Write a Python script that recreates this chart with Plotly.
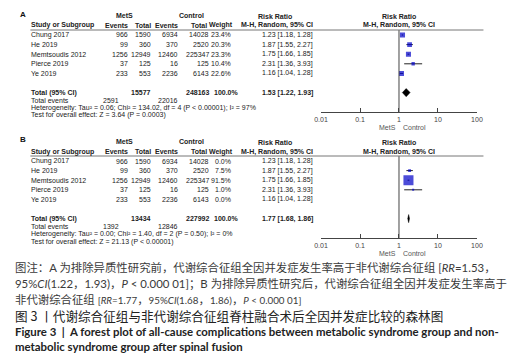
import plotly.graph_objects as go
import math

# ---------------- data ----------------
studies = ["Chung 2017", "He 2019", "Memtsoudis 2012", "Pierce 2019", "Ye 2019"]
mets_events = [966, 99, 1256, 37, 233]
mets_total = [1590, 360, 12949, 125, 553]
ctrl_events = [6934, 370, 12460, 16, 2236]
ctrl_total = [14028, 2520, 225347, 125, 6143]
rr = [1.23, 1.87, 1.75, 2.31, 1.16]
rr_lo = [1.18, 1.55, 1.66, 1.36, 1.04]
rr_hi = [1.28, 2.27, 1.85, 3.93, 1.28]
weight_a = [23.4, 20.3, 23.3, 10.4, 22.6]
weight_b = [0.0, 7.5, 91.5, 1.0, 0.0]

pooled_a = [1.53, 1.22, 1.93]
pooled_b = [1.77, 1.68, 1.86]
totals_a = [15577, 248163, 2591, 22016]
totals_b = [13434, 227992, 1392, 12846]
het_a = "Heterogeneity: Tau² = 0.06; Chi² = 134.02, df = 4 (P < 0.00001); I² = 97%"
het_b = "Heterogeneity: Tau² = 0.00; Chi² = 1.40, df = 2 (P = 0.50); I² = 0%"
test_a = "Test for overall effect: Z = 3.64 (P = 0.0003)"
test_b = "Test for overall effect: Z = 21.13 (P < 0.00001)"

tick_vals = [0.01, 0.1, 1, 10, 100]
tick_labels = ["0.01", "0.1", "1", "10", "100"]


def lat(s):
    return '<span style="font-size:9.8px">' + s + '</span>'


caption_lines = [
    "图注：A 为排除异质性研究前，代谢综合征组全因并发症发生率高于非代谢综合征组 [<i>RR</i>=1.53，",
    "95%<i>CI</i>(1.22，1.93)，<i>P</i> < 0.000 01]；B 为排除异质性研究后，代谢综合征组全因并发症发生率高于",
    "非代谢综合征组 " + lat("[<i>RR</i>=1.77") + "，" + lat("95%<i>CI</i>(1.68") + "，"
    + lat("1.86)") + "，" + lat("<i>P</i> < 0.000 01]"),
]
title_cn = "图 3 丨代谢综合征组与非代谢综合征组脊柱融合术后全因并发症比较的森林图"
title_en = ["Figure 3  |  A forest plot of all-cause complications between metabolic syndrome group and non-",
            "metabolic syndrome group after spinal fusion"]

# ---------------- layout helpers ----------------
W, H = 507, 358
FONT = "Liberation Sans, Arial, sans-serif"
TXT = "#222"
FS = 7


def xp(p):
    return p / W


def yp(p):
    return 1 - p / H


ROW0 = 35.0
STEP = 9.6
AX_X0, AX_X1 = 322.3, 482.3

fig = go.Figure()
annotations = []
shapes = []


def txt(s, x, y, anchor="left", bold=False, size=FS, color=TXT, family=FONT):
    if bold:
        s = "<b>" + s + "</b>"
    annotations.append(dict(text=s, x=xp(x), y=yp(y), xref="paper", yref="paper",
                            xanchor=anchor, yanchor="middle", showarrow=False,
                            font=dict(family=family, size=size, color=color),
                            borderpad=0))


def panel(idx, label, off, weights, pooled, totals, het, test):
    xa = "x" if idx == 1 else "x2"
    ya = "y" if idx == 1 else "y2"
    rowpx = lambda r: off + ROW0 + STEP * r
    # header
    txt(label, 12, off + 14, bold=True, size=8, color="#111")
    txt("MetS", 121, off + 15.5, anchor="center", bold=True)
    txt("Control", 189, off + 15.5, anchor="center", bold=True)
    txt("Risk Ratio", 275, off + 16.5, anchor="center", bold=True)
    txt("Risk Ratio", 402, off + 16.5, anchor="center", bold=True)
    hy = off + 25.5
    txt("Study or Subgroup", 24, hy, bold=True)
    txt("Events", 125, hy, anchor="right", bold=True)
    txt("Total", 149, hy, anchor="right", bold=True)
    txt("Events", 177, hy, anchor="right", bold=True)
    txt("Total", 206.5, hy, anchor="right", bold=True)
    txt("Weight", 232.5, hy, anchor="right", bold=True)
    txt("M-H, Random, 95% CI", 315, hy, anchor="right", bold=True)
    txt("M-H, Random, 95% CI", 402, hy, anchor="center", bold=True)
    shapes.append(dict(type="line", xref="paper", yref="paper",
                       x0=xp(24), x1=xp(489), y0=yp(off + 30), y1=yp(off + 30),
                       line=dict(color="#777", width=1)))
    # study rows
    for i, s in enumerate(studies):
        y = rowpx(i)
        txt(s, 24, y)
        txt(str(mets_events[i]), 125, y, anchor="right")
        txt(str(mets_total[i]), 149, y, anchor="right")
        txt(str(ctrl_events[i]), 177, y, anchor="right")
        txt(str(ctrl_total[i]), 208, y, anchor="right")
        txt(f"{weights[i]:.1f}%", 231, y, anchor="right")
        txt(f"{rr[i]:.2f} [{rr_lo[i]:.2f}, {rr_hi[i]:.2f}]", 315, y, anchor="right")
    # total rows
    ty = rowpx(6)
    txt("Total (95% CI)", 24, ty, bold=True)
    txt(str(totals[0]), 149, ty, anchor="right", bold=True)
    txt(str(totals[1]), 208, ty, anchor="right", bold=True)
    txt(f"{sum(weights):.1f}%", 239, ty, anchor="right", bold=True)
    txt(f"{pooled[0]:.2f} [{pooled[1]:.2f}, {pooled[2]:.2f}]", 315, ty, anchor="right", bold=True)
    txt("Total events", 24, off + 100.5)
    txt(str(totals[2]), 116, off + 100.5, anchor="right")
    txt(str(totals[3]), 177, off + 100.5, anchor="right")
    txt(het, 24, off + 108)
    txt(test, 24, off + 115.5)
    txt("MetS", 400, off + 127.7, anchor="right", color="#555")
    txt("Control", 405, off + 127.7, anchor="left", color="#555")

    # forest marks (through axes)
    idxs = [i for i in range(len(studies)) if weights[i] > 0]
    fig.add_trace(go.Scatter(
        x=[rr[i] for i in idxs], y=[i for i in idxs], xaxis=xa, yaxis=ya,
        mode="markers",
        marker=dict(symbol="square", color="#0000c8",
                    size=[max(2, 1.05 * math.sqrt(weights[i])) for i in idxs],
                    line=dict(width=0)),
        error_x=dict(type="data", symmetric=False,
                     array=[rr_hi[i] - rr[i] for i in idxs],
                     arrayminus=[rr[i] - rr_lo[i] for i in idxs],
                     color="#222", thickness=1, width=0),
        hoverinfo="skip", showlegend=False))
    h = 0.42
    fig.add_trace(go.Scatter(
        x=[pooled[1], pooled[0], pooled[2], pooled[0], pooled[1]],
        y=[6, 6 - h, 6, 6 + h, 6], xaxis=xa, yaxis=ya,
        mode="lines", fill="toself", fillcolor="#000",
        line=dict(color="#000", width=0.5), hoverinfo="skip", showlegend=False))
    # line of no effect
    r_top = (30 - ROW0) / STEP
    r_bot = (112.3 - ROW0) / STEP
    fig.add_trace(go.Scatter(x=[1, 1], y=[r_top, r_bot], xaxis=xa, yaxis=ya,
                             mode="lines", line=dict(color="#444", width=1),
                             hoverinfo="skip", showlegend=False))
    axis_common = dict(type="log", range=[-2, 2], domain=[xp(AX_X0), xp(AX_X1)],
                       showline=True, linecolor="#444", linewidth=1,
                       ticks="inside", ticklen=4, tickcolor="#444", tickwidth=1,
                       tickvals=tick_vals, ticktext=tick_labels,
                       tickfont=dict(family=FONT, size=7, color="#444"),
                       showgrid=False, zeroline=False, fixedrange=True)
    yaxis_common = dict(range=[r_bot, (14 - ROW0) / STEP],
                        domain=[yp(off + 112.3), yp(off + 14)],
                        visible=False, fixedrange=True)
    if idx == 1:
        fig.update_layout(xaxis=dict(anchor="y", **axis_common),
                          yaxis=dict(anchor="x", **yaxis_common))
    else:
        fig.update_layout(xaxis2=dict(anchor="y2", **axis_common),
                          yaxis2=dict(anchor="x2", **yaxis_common))


panel(1, "A", 0, weight_a, pooled_a, totals_a, het_a, test_a)
panel(2, "B", 126, weight_b, pooled_b, totals_b, het_b, test_b)

# caption
CJK = "Lato, Noto Sans CJK SC, sans-serif"
cap_y = [267, 283, 299]
for s, y in zip(caption_lines, cap_y):
    txt(s, 7, y, size=11.4, color="#3a3a3a", family=CJK)
txt(title_cn, 7, 315, size=12.6, color="#222", family="Noto Sans CJK SC, sans-serif")
txt(title_en[0], 7, 331, bold=True, size=11.4, color="#222", family="Lato, sans-serif")
txt(title_en[1], 7, 346, bold=True, size=11.4, color="#222", family="Lato, sans-serif")

fig.update_layout(width=W, height=H, margin=dict(l=0, r=0, t=0, b=0),
                  paper_bgcolor="white", plot_bgcolor="white",
                  annotations=annotations, shapes=shapes, showlegend=False)

fig.write_html("out.html", config={"displayModeBar": False},
               post_script="document.body.style.margin='0';")
